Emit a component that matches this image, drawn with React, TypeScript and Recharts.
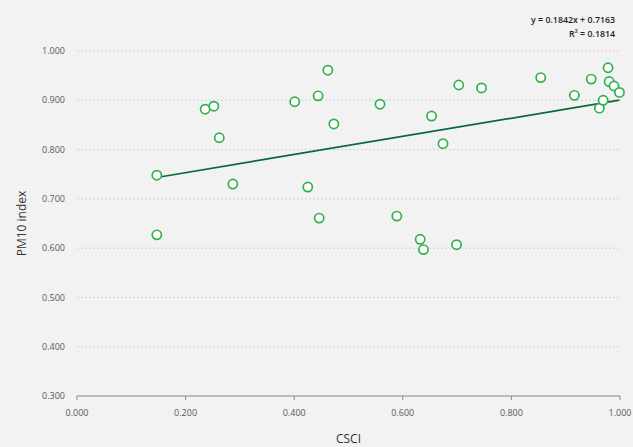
import { ScatterChart, Scatter, XAxis, YAxis, CartesianGrid, ReferenceLine } from "recharts";

// CSCI (x) vs PM10 index (y)
const csci = [
  0.147, 0.147, 0.236, 0.252, 0.262, 0.287, 0.401, 0.425, 0.444, 0.446,
  0.462, 0.473, 0.558, 0.589, 0.632, 0.638, 0.653, 0.674, 0.699, 0.703,
  0.745, 0.854, 0.916, 0.947, 0.962, 0.969, 0.978, 0.980, 0.989, 0.999,
];
const pm10 = [
  0.748, 0.627, 0.882, 0.888, 0.824, 0.730, 0.897, 0.724, 0.909, 0.661,
  0.961, 0.852, 0.892, 0.665, 0.618, 0.597, 0.868, 0.812, 0.607, 0.931,
  0.925, 0.946, 0.910, 0.943, 0.884, 0.900, 0.966, 0.938, 0.929, 0.916,
];

const xTicks = [0, 0.2, 0.4, 0.6, 0.8, 1.0];
const yTicks = [0.3, 0.4, 0.5, 0.6, 0.7, 0.8, 0.9, 1.0];

// linear trend as printed on the chart
const slope = 0.1842;
const intercept = 0.7163;
const r2 = 0.1814;

const FONT = "'Open Sans', sans-serif";
const POINT_COLOR = "rgb(46, 179, 75)";
const TREND_COLOR = "rgb(12, 104, 58)";

const points = csci.map((x, i) => ({ x, y: pm10[i] }));
const xMin = Math.min(...csci);
const xMax = Math.max(...csci);

const Dot = (props: any) => (
  <circle cx={props.cx} cy={props.cy} r={4.6} fill="#fff" stroke={POINT_COLOR} strokeWidth={1.7} />
);

export default function App() {
  return (
    <div style={{ position: "fixed", left: 0, top: 0, width: 633, height: 447, background: "#f2f2f2", fontFamily: FONT }}>
      <ScatterChart width={633} height={447} margin={{ top: 51, right: 13, bottom: 0, left: 0 }}>
        <CartesianGrid horizontal vertical={false} stroke="#d2d2d2" strokeDasharray="2 2" />
        <XAxis
          type="number"
          dataKey="x"
          domain={[0, 1]}
          ticks={xTicks}
          tickFormatter={(v) => v.toFixed(3)}
          height={51}
          stroke="#8c8c8c"
          tickSize={4}
          tickMargin={10}
          tick={{ fill: "#595959", fontSize: 9, fontFamily: FONT }}
          label={{ value: "CSCI", position: "insideBottom", offset: 4, style: { fill: "#333", fontSize: 12, fontFamily: FONT } }}
        />
        <YAxis
          type="number"
          dataKey="y"
          domain={[0.3, 1.0]}
          ticks={yTicks}
          tickFormatter={(v) => v.toFixed(3)}
          width={77}
          axisLine={false}
          tickLine={false}
          tickSize={0}
          tickMargin={12}
          tick={{ fill: "#595959", fontSize: 9, fontFamily: FONT }}
          label={{ value: "PM10 index", angle: -90, position: "insideLeft", offset: 22, style: { textAnchor: "middle", fill: "#333", fontSize: 12, fontFamily: FONT } }}
        />
        <ReferenceLine
          segment={[
            { x: xMin, y: slope * xMin + intercept },
            { x: xMax, y: slope * xMax + intercept },
          ]}
          stroke={TREND_COLOR}
          strokeWidth={1.7}
          ifOverflow="visible"
        />
        <Scatter data={points} shape={<Dot />} isAnimationActive={false} />
      </ScatterChart>
      <div style={{ position: "absolute", right: 18, top: 13, textAlign: "right", fontSize: 8.8, lineHeight: "14px", color: "#222", fontWeight: 600 }}>
        <div>y = {slope}x + {intercept}</div>
        <div>R² = {r2}</div>
      </div>
    </div>
  );
}
